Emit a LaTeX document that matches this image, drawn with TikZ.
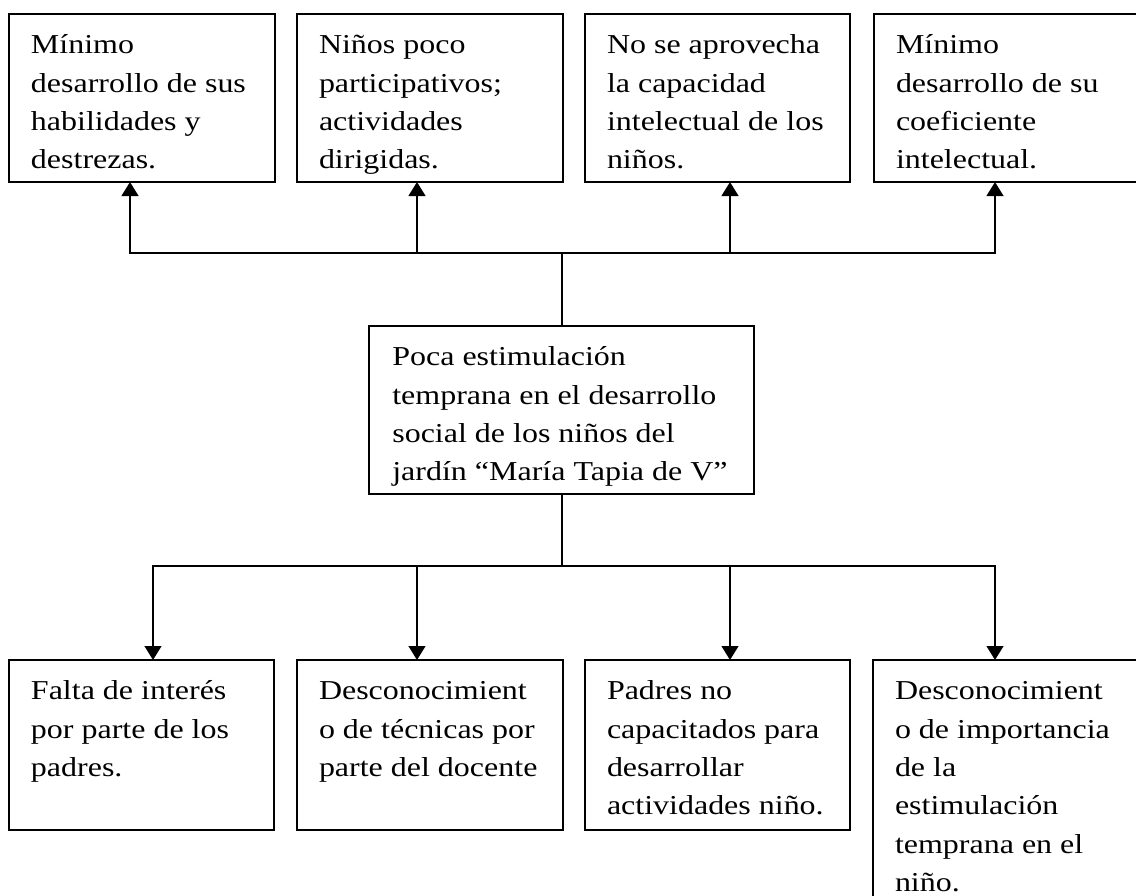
\documentclass[tikz,border=0pt]{standalone}
\usepackage{fontspec}
\setmainfont{Liberation Serif}[FakeStretch=1.17]
\usetikzlibrary{arrows.meta,fit}
\begin{document}
\begin{tikzpicture}[x=0.75pt,y=-0.75pt,
  box/.style={draw,line width=1.6pt,inner sep=0pt,outer sep=0pt,rectangle},
  txt/.style={inner sep=0pt,outer sep=0pt,align=left,anchor=north west,font=\fontsize{20.5pt}{28.7pt}\selectfont},
  ln/.style={line width=1.8pt},
  arr/.style={line width=1.8pt,-{Triangle[width=12.5pt,length=10.5pt]}}]
\useasboundingbox (0,0) rectangle (1136,896);
\clip (0,0) rectangle (1136,896);
% effect boxes
\node[box,fit={(9,14) (275,182)}] (e1) {};
\node[box,fit={(297,14) (563,182)}] (e2) {};
\node[box,fit={(585,14) (850,182)}] (e3) {};
\node[box,fit={(874,14) (1145,182)}] (e4) {};
% problem
\node[box,fit={(369,326) (754,494)}] (p) {};
% cause boxes
\node[box,fit={(9,660) (274,830)}] (c1) {};
\node[box,fit={(297,660) (563,830)}] (c2) {};
\node[box,fit={(585,660) (850,830)}] (c3) {};
\node[box,fit={(873,660) (1145,960)}] (c4) {};
% texts
\node[txt] (te1) at ([shift={(16.5pt,-9.9pt)}]e1.north west) {\strut Mínimo\\desarrollo de sus\\habilidades y\\destrezas.};
\node[txt] (te2) at ([shift={(16.5pt,-9.9pt)}]e2.north west) {\strut Niños poco\\participativos;\\actividades\\dirigidas.};
\node[txt] (te3) at ([shift={(16.5pt,-9.9pt)}]e3.north west) {\strut No se aprovecha\\la capacidad\\intelectual de los\\niños.};
\node[txt] (te4) at ([shift={(16.5pt,-9.9pt)}]e4.north west) {\strut Mínimo\\desarrollo de su\\coeficiente\\intelectual.};
\node[txt] (tp) at ([shift={(17.5pt,-9.9pt)}]p.north west) {\strut Poca estimulación\\temprana en el desarrollo\\social de los niños del\\jardín “María Tapia de V”};
\node[txt] (tc1) at ([shift={(16.5pt,-9.9pt)}]c1.north west) {\strut Falta de interés\\por parte de los\\padres.};
\node[txt] (tc2) at ([shift={(16.5pt,-9.9pt)}]c2.north west) {\strut Desconocimient\\o de técnicas por\\parte del docente};
\node[txt] (tc3) at ([shift={(16.5pt,-9.9pt)}]c3.north west) {\strut Padres no\\capacitados para\\desarrollar\\actividades niño.};
\node[txt] (tc4) at ([shift={(16.5pt,-9.9pt)}]c4.north west) {\strut Desconocimient\\o de importancia\\de la\\estimulación\\temprana en el\\niño.};
% top connectors
\coordinate (tj) at (562,253);
\coordinate (tl) at (130,253);
\coordinate (t2) at (417,253);
\coordinate (t3) at (730,253);
\coordinate (tr) at (995,253);
\draw[ln] (p.north -| tj) -- (tj);
\draw[arr] (tj) -- (tl) -- (tl |- e1.south);
\draw[arr] (tj) -- (tr) -- (tr |- e4.south);
\draw[arr] (t2) -- (t2 |- e2.south);
\draw[arr] (t3) -- (t3 |- e3.south);
% bottom connectors
\coordinate (bj) at (562,566);
\coordinate (bl) at (153,566);
\coordinate (b2) at (417,566);
\coordinate (b3) at (730,566);
\coordinate (br) at (995,566);
\draw[ln] (p.south -| bj) -- (bj);
\draw[arr] (bj) -- (bl) -- (bl |- c1.north);
\draw[arr] (bj) -- (br) -- (br |- c4.north);
\draw[arr] (b2) -- (b2 |- c2.north);
\draw[arr] (b3) -- (b3 |- c3.north);
\end{tikzpicture}
\end{document}
